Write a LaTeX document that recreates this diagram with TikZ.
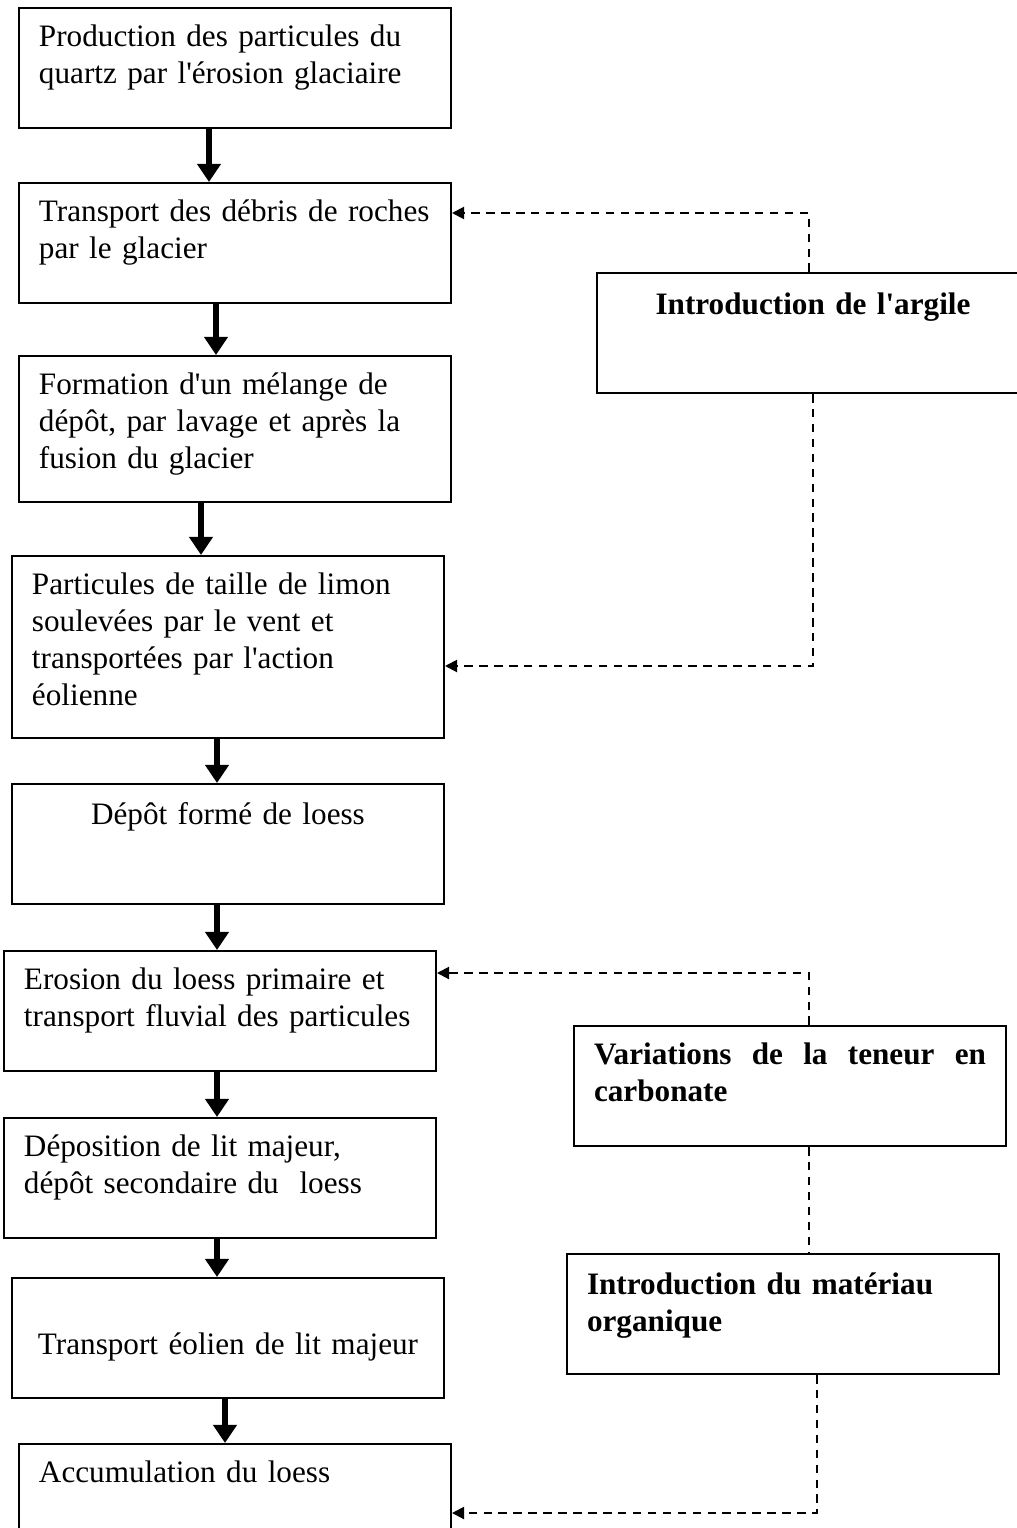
\documentclass[tikz,border=0pt]{standalone}
\usepackage{fontspec}
\setmainfont{Liberation Serif}[Ligatures=TeXOff]
\usetikzlibrary{arrows.meta}

\begin{document}
\begin{tikzpicture}[x=0.375pt, y=-0.375pt, stage/.style={draw, line
      width=0.75pt, anchor=north west, inner xsep=0pt, inner ysep=0pt,
      text width=162pt, align=left, font=\fontsize{11.7}{13.9}\selectfont,
      execute at begin node={\leftskip=7.5pt}, text height=14.25pt,
      text depth=30.75pt}, mid/.style={align=center, execute at begin
      node={\leftskip=0pt plus 1fil\rightskip=0pt plus 1fil}}]
  \useasboundingbox (0,0) rectangle (1017,1528);
  \begin{scope}[every node/.style={stage}]
    \node (s1) at (18,7) {Production des particules du\\quartz par
      l'érosion glaciaire}; \node (s2) at (18,182) {Transport des
      débris de roches\\par le glacier}; \node [text depth=40.5pt] (s3)
    at (18,355) {Formation d'un mélange de\\dépôt, par lavage et après
      la\\fusion du glacier}; \node [text depth=54pt] (s4) at (11,555)
    {Particules de taille de limon\\soulevées par le vent et\\transportées
      par l'action\\éolienne}; \node [mid, text height=15pt, text
    depth=30pt] (s5) at (11,783) {Dépôt formé de loess};
    \node (s6) at (3,950) {Erosion du loess primaire et\\transport fluvial
      des particules}; \node (s7) at (3,1117) {Déposition de lit
      majeur,\\dépôt secondaire du~ loess}; \node [mid, text
    height=28.5pt, text depth=16.5pt] (s8) at (11,1277) {Transport
      éolien de lit majeur}; \node [text height=14.6pt] (s9) at
    (18,1443) {Accumulation du loess};

    \node [mid, text height=15.4pt, text depth=29.6pt] (argile) at
    (596,272) {\bfseries Introduction de l'argile}; \node [execute at
    begin node={\leftskip=7.5pt\rightskip=7.5pt}] (carb) at (573,1025)
    {\bfseries Variations\hfill de\hfill la\hfill teneur\hfill
      en\\carbonate}; \node [text height=15pt, text depth=30pt] (orga)
    at (566,1253) {\bfseries Introduction du matériau\\organique};
  \end{scope}
  \begin{scope}[line width=2.6pt, -{Triangle[width=8.6pt, length=6.8pt]}]
    \draw (s1.south -| 209,0) to (s2.north -| 209,0); \draw (s2.south
    -| 216,0) to (s3.north -| 216,0); \draw (s3.south -| 201,0) to
    (s4.north -| 201,0); \draw (s4.south -| 217,0) to (s5.north -|
    217,0); \draw (s5.south -| 217,0) to (s6.north -| 217,0); \draw
    (s6.south -| 217,0) to (s7.north -| 217,0); \draw (s7.south -|
    217,0) to (s8.north -| 217,0); \draw (s8.south -| 225,0) to
    (s9.north -| 225,0);
  \end{scope}
  \begin{scope}[line width=0.75pt, dash pattern=on 3.2pt off 2.4pt,
    -{Triangle[width=4.5pt, length=4.5pt]}]
    \draw (argile.north -| 809,0) |- (s2.east |- 0,213); \draw
    (argile.south -| 813,0) |- (s4.east |- 0,666); \draw (carb.north
    -| 809,0) |- (s6.east |- 0,973); \draw [-] (carb.south -| 809,0)
    to (orga.north -| 809,0); \draw (orga.south -| 817,0) |- (s9.east
    |- 0,1513);
  \end{scope}
\end{tikzpicture}
\end{document}
